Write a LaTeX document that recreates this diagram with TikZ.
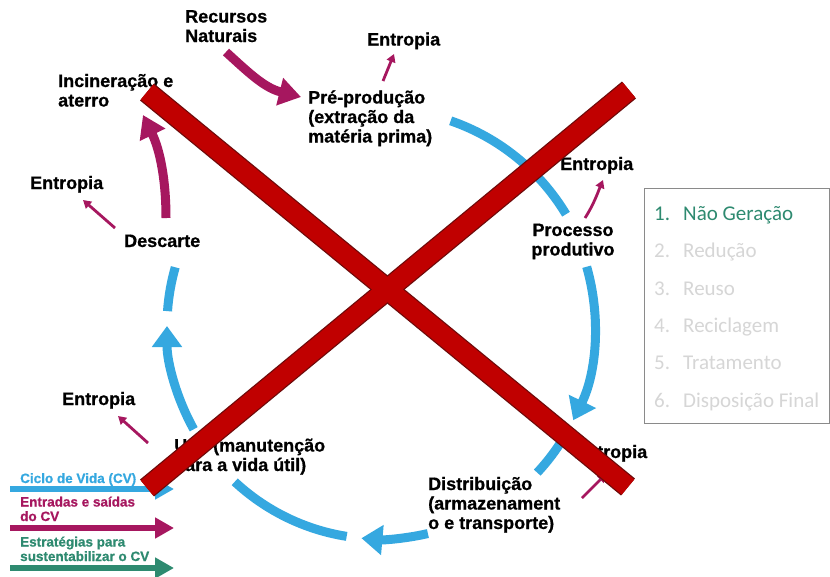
\documentclass[tikz,border=0pt]{standalone}
\usepackage{fontspec}
\setmainfont{Liberation Sans}
\newfontfamily\heavyfont{Liberation Sans}[BoldFeatures={FakeBold=0.7}]
\newfontfamily\calib{Carlito}
\usetikzlibrary{arrows.meta}
\definecolor{cvblue}{HTML}{35A8E0}
\definecolor{cvpurple}{HTML}{A6175F}
\definecolor{cvred}{HTML}{C00000}
\definecolor{cvredline}{HTML}{6E0A0A}
\definecolor{cvteal}{HTML}{2E8A70}
\definecolor{cvgray}{HTML}{D6D6D6}
\definecolor{boxgray}{HTML}{8A8A8A}
\begin{document}
\begin{tikzpicture}[x=1pt,y=-1pt,
  lbl/.style={anchor=base west, inner sep=0pt, align=left,
    font=\fontsize{18}{19.5}\selectfont\heavyfont\bfseries},
  leg/.style={anchor=base west, inner sep=0pt, align=left,
    font=\fontsize{13.5}{14.5}\selectfont\heavyfont\bfseries},
  item/.style={anchor=base west, inner sep=0pt, text=cvgray,
    font=\fontsize{21}{24}\selectfont\calib},
  cyc/.style={cvblue, line width=9pt},
  cycarrow/.style={cyc, -{Triangle[length=21pt,width=29pt]}},
  bigin/.style={cvpurple, line width=9pt, -{Triangle[length=22pt,width=27pt]}},
  ent/.style={cvpurple, line width=2.8pt, -{Triangle[length=8pt,width=9pt]}},
  legarrow/.style={line width=5.5pt, -{Triangle[length=19pt,width=20pt]}},
  barout/.style={cvredline, line width=22pt},
  barin/.style={cvred, line width=19.5pt},
]
\path[use as bounding box, fill=white] (0,0) rectangle (830,576);

% centre of the life cycle
\coordinate (C) at (380,326);

% blue life-cycle arcs
\draw[cyc] (C) ++(-71:217) arc[start angle=-71, end angle=-31, radius=217];
\draw[cycarrow] (C) ++(-16:215) arc[start angle=-16, end angle=26, radius=215];
\draw[cyc] (C) ++(31:215) arc[start angle=31, end angle=43, radius=215];
\draw[cycarrow] (C) ++(77:213) arc[start angle=77, end angle=95, radius=213];
\draw[cyc] (C) ++(99:213) arc[start angle=99, end angle=133, radius=213];
\draw[cycarrow] (C) ++(151:213) arc[start angle=151, end angle=180, radius=213];
\draw[cyc] (C) ++(184:213) arc[start angle=184, end angle=196, radius=213];

% labels (base = baseline of the last line)
\node[lbl] (rn) at (185,42) {Recursos\\Naturais};
\node[lbl] (e1) at (367,45.5) {Entropia};
\node[lbl] (pp) at (308,142.5) {Pré-produção\\(extração da\\matéria prima)};
\node[lbl] (inc) at (58,106.5) {Incineração e\\aterro};
\node[lbl] (e2) at (30,189) {Entropia};
\node[lbl] (desc) at (124,247) {Descarte};
\node[lbl] (e3) at (560,170) {Entropia};
\node[lbl, align=center, anchor=base] (proc) at (573,255.5) {Processo\\produtivo};
\node[lbl] (e4) at (62,405) {Entropia};
\node[lbl] (uso) at (174,471) {Uso (manutenção\\para a vida útil)};
\node[lbl] (e5) at (574,458) {Entropia};
\node[lbl] (dist) at (428,529) {Distribuição\\(armazenament\\o e transporte)};

% purple inputs / outputs
\coordinate (rnA) at (226,52);
\coordinate (rnB) at (301,97);
\draw[bigin] (rnA) .. controls (250,74) and (265,88) .. (rnB);
\coordinate (incA) at (166,218);
\coordinate (incB) at (143,115);
\draw[bigin] (incA) .. controls (166,180) and (160,150) .. (incB);

\coordinate (s1) at (383,81);  \coordinate (t1) at (394,54);
\coordinate (s2) at (115,228); \coordinate (t2) at (83,200);
\coordinate (s3) at (585,218); \coordinate (t3) at (603,180);
\coordinate (s4) at (148,443); \coordinate (t4) at (118,416);
\coordinate (s5) at (582,498); \coordinate (t5) at (606,474);
\draw[ent] (s1) -- (t1);
\draw[ent] (s2) -- (t2);
\draw[ent] (s3) .. controls (594,204) and (598,192) .. (t3);
\draw[ent] (s4) -- (t4);
\draw[ent] (s5) -- (t5);

% legend of strategies
\node[draw=boxgray, line width=1.2pt, minimum width=185pt, minimum height=235pt,
  anchor=north west, inner sep=0pt] (box) at (644,188) {};
\node[item, text=cvteal] (n1) at (654,220) {1.};
\node[item, text=cvteal] (i1) at (683,220) {Não Geração};
\node[item] (n2) at (654,257.5) {2.};
\node[item] (i2) at (683,257.5) {Redução};
\node[item] (n3) at (654,295) {3.};
\node[item] (i3) at (683,295) {Reuso};
\node[item] (n4) at (654,332) {4.};
\node[item] (i4) at (683,332) {Reciclagem};
\node[item] (n5) at (654,369.5) {5.};
\node[item] (i5) at (683,369.5) {Tratamento};
\node[item] (n6) at (654,407) {6.};
\node[item] (i6) at (683,407) {Disposição Final};

% legend of arrows
\node[leg, text=cvblue] (lcv) at (20,483) {Ciclo de Vida (CV)};
\coordinate (la1) at (10,489); \coordinate (lb1) at (174,489);
\draw[legarrow, cvblue] (la1) -- (lb1);
\node[leg, text=cvpurple] (lio) at (20,521) {Entradas e saídas\\do CV};
\coordinate (la2) at (10,528); \coordinate (lb2) at (174,528);
\draw[legarrow, cvpurple] (la2) -- (lb2);
\node[leg, text=cvteal] (lst) at (20,561) {Estratégias para\\sustentabilizar o CV};
\coordinate (la3) at (10,568); \coordinate (lb3) at (174,568);
\draw[legarrow, cvteal] (la3) -- (lb3);

% red cross
\coordinate (x1a) at (147,92);  \coordinate (x1b) at (628,487);
\coordinate (x2a) at (629,90);  \coordinate (x2b) at (147,488);
\draw[barout] (x1a) -- (x1b);
\draw[barout] (x2a) -- (x2b);
\draw[barin] (x1a) -- (x1b);
\draw[barin] (x2a) -- (x2b);
\end{tikzpicture}
\end{document}
